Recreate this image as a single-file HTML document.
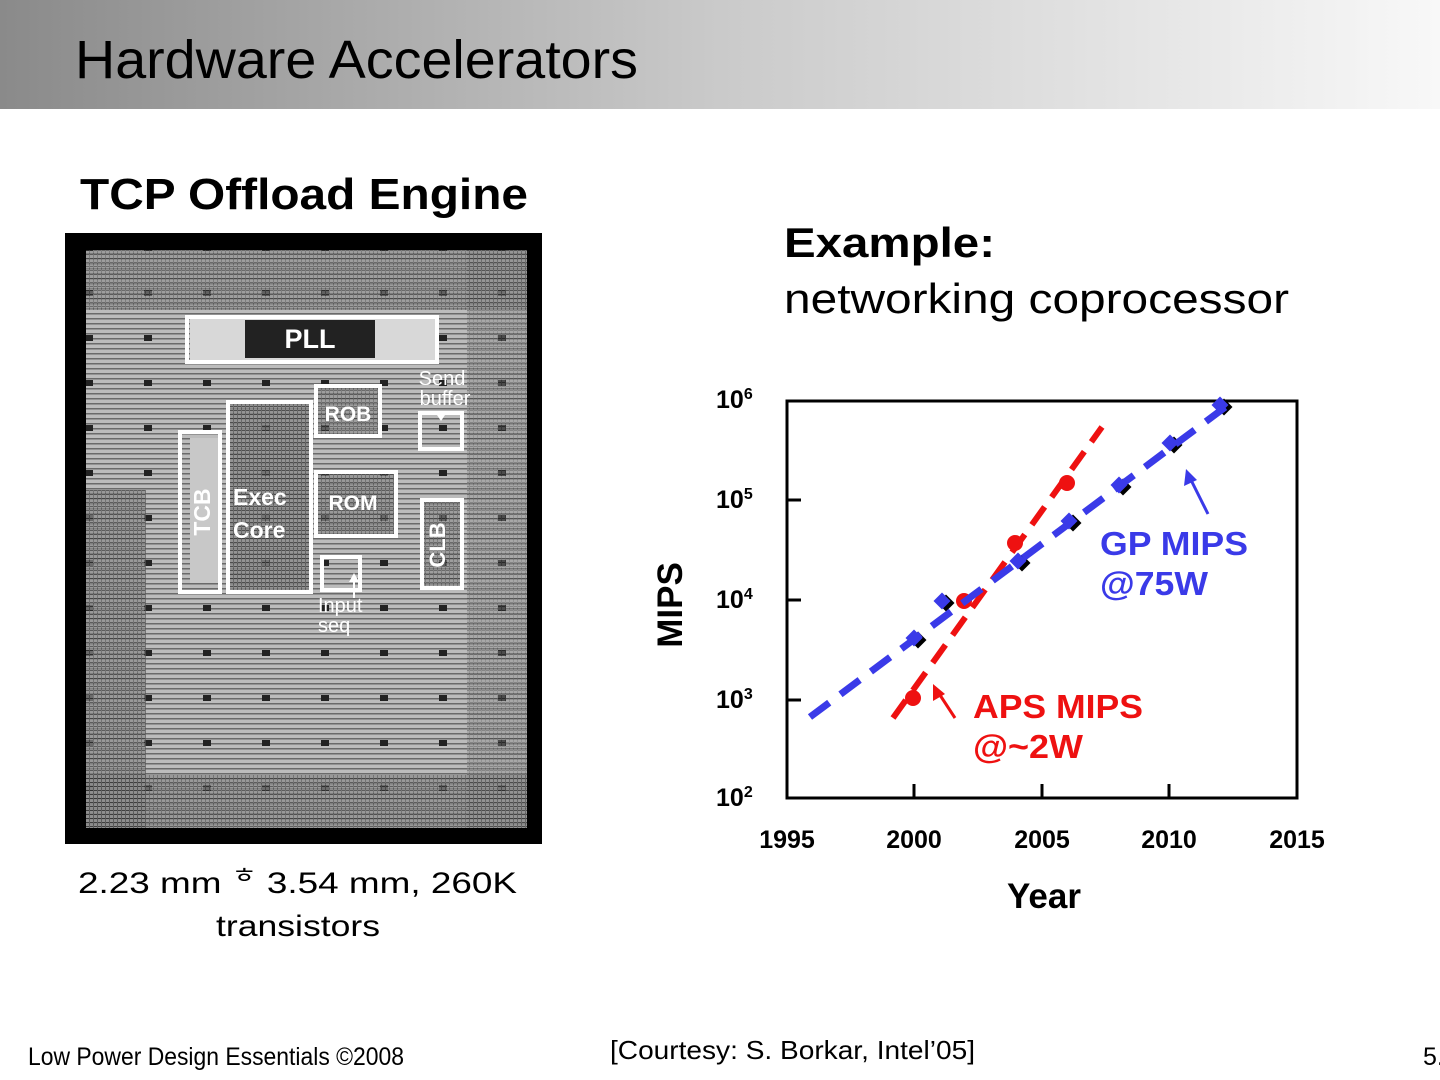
<!DOCTYPE html>
<html><head><style>
html,body{margin:0;padding:0;background:#fff}
svg{display:block}
text{font-family:"Liberation Sans",Arial,sans-serif}
</style></head><body>
<svg width="1440" height="1080" viewBox="0 0 1440 1080" xmlns="http://www.w3.org/2000/svg">
<defs>
<linearGradient id="hg" x1="0" x2="1" y1="0" y2="0">
<stop offset="0" stop-color="#8a8a8a"/><stop offset="0.5" stop-color="#cacaca"/><stop offset="1" stop-color="#f8f8f8"/>
</linearGradient>
<pattern id="stripes" width="6" height="5" patternUnits="userSpaceOnUse">
<rect width="6" height="5" fill="#bcbcbc"/><rect y="3" width="6" height="1.5" fill="#6a6a6a"/>
</pattern>
<pattern id="dense" width="4" height="4" patternUnits="userSpaceOnUse">
<rect width="4" height="4" fill="#8a8a8a"/><rect y="2" width="4" height="1" fill="#333"/><rect x="1" width="1" height="4" fill="#555"/>
</pattern>
<pattern id="dots" width="59" height="45" patternUnits="userSpaceOnUse">
<rect x="26" y="20" width="8" height="6" fill="#222"/>
</pattern>
</defs>
<rect x="0" y="0" width="1440" height="109" fill="url(#hg)"/>
<text x="75" y="78" font-size="54" textLength="563" lengthAdjust="spacingAndGlyphs" fill="#000">Hardware Accelerators</text>

<text x="80" y="209" font-size="44" font-weight="bold" fill="#000" textLength="448" lengthAdjust="spacingAndGlyphs">TCP Offload Engine</text>

<!-- chip -->
<rect x="65" y="233" width="477" height="611" fill="#000"/>
<rect x="86" y="250" width="441" height="578" fill="url(#stripes)"/>
<rect x="86" y="250" width="441" height="578" fill="url(#dots)"/>
<rect x="86" y="250" width="441" height="60" fill="url(#dense)" opacity="0.6"/>
<rect x="86" y="490" width="60" height="338" fill="url(#dense)" opacity="0.7"/>
<rect x="86" y="775" width="441" height="53" fill="url(#dense)" opacity="0.7"/>
<rect x="467" y="250" width="60" height="578" fill="url(#dense)" opacity="0.4"/>
<rect x="190" y="318" width="245" height="42" fill="#d8d8d8"/>
<rect x="245" y="320" width="130" height="38" fill="#222"/>
<rect x="187" y="317" width="250" height="45" fill="none" stroke="#fff" stroke-width="4"/>
<text x="310" y="348" font-size="27" font-weight="bold" fill="#fff" text-anchor="middle">PLL</text>
<rect x="316" y="386" width="64" height="50" fill="url(#dense)" opacity="0.6"/>
<rect x="316" y="386" width="64" height="50" fill="none" stroke="#fff" stroke-width="4"/>
<text x="348" y="421" font-size="21" font-weight="bold" fill="#fff" text-anchor="middle">ROB</text>
<rect x="228" y="402" width="83" height="190" fill="url(#dense)" opacity="0.8"/>
<rect x="228" y="402" width="83" height="190" fill="none" stroke="#fff" stroke-width="4"/>
<text x="233" y="505" font-size="23" font-weight="bold" fill="#fff">Exec</text>
<text x="233" y="538" font-size="23" font-weight="bold" fill="#fff">Core</text>
<rect x="190" y="438" width="30" height="145" fill="#c8c8c8"/>
<rect x="180" y="432" width="40" height="160" fill="none" stroke="#fff" stroke-width="4"/>
<text transform="translate(210,512) rotate(-90)" font-size="23" font-weight="bold" fill="#fff" text-anchor="middle">TCB</text>
<rect x="316" y="472" width="80" height="64" fill="url(#dense)" opacity="0.7"/>
<rect x="316" y="472" width="80" height="64" fill="none" stroke="#fff" stroke-width="4"/>
<text x="353" y="510" font-size="21" font-weight="bold" fill="#fff" text-anchor="middle">ROM</text>
<rect x="422" y="500" width="40" height="88" fill="url(#dense)" opacity="0.6"/>
<rect x="422" y="500" width="40" height="88" fill="none" stroke="#fff" stroke-width="4"/>
<text transform="translate(445,545) rotate(-90)" font-size="22" font-weight="bold" fill="#fff" text-anchor="middle">CLB</text>
<rect x="420" y="413" width="42" height="36" fill="none" stroke="#fff" stroke-width="4"/>
<text x="442" y="385" font-size="20" fill="#fff" text-anchor="middle">Send</text>
<text x="445" y="405" font-size="20" fill="#fff" text-anchor="middle">buffer</text>
<polygon points="435,412 447,412 441,421" fill="#fff"/>
<rect x="322" y="557" width="38" height="33" fill="none" stroke="#fff" stroke-width="4"/>
<text x="318" y="612" font-size="20" fill="#fff">Input</text>
<text x="318" y="632" font-size="20" fill="#fff">seq</text>
<line x1="354" y1="575" x2="354" y2="598" stroke="#fff" stroke-width="2"/>
<polygon points="349,582 359,582 354,573" fill="#fff"/>

<text x="78" y="893" font-size="30" fill="#000" textLength="439" lengthAdjust="spacingAndGlyphs">2.23 mm <tspan font-size="22" dy="-10">ㅎ</tspan><tspan dy="10"> 3.54 mm, 260K</tspan></text>
<text x="216" y="936" font-size="30" fill="#000" textLength="164" lengthAdjust="spacingAndGlyphs">transistors</text>

<text x="784" y="257" font-size="42" font-weight="bold" fill="#000" textLength="211" lengthAdjust="spacingAndGlyphs">Example:</text>
<text x="784" y="313" font-size="42" fill="#000" textLength="505" lengthAdjust="spacingAndGlyphs">networking coprocessor</text>

<!-- chart -->
<rect x="787" y="401" width="510" height="397" fill="none" stroke="#000" stroke-width="3"/>
<g stroke="#000" stroke-width="3">
<line x1="787" y1="500" x2="801" y2="500"/><line x1="787" y1="600" x2="801" y2="600"/><line x1="787" y1="700" x2="801" y2="700"/>
<line x1="914" y1="798" x2="914" y2="784"/><line x1="1042" y1="798" x2="1042" y2="784"/><line x1="1169" y1="798" x2="1169" y2="784"/>
</g>
<g font-size="25" font-weight="bold" fill="#000">
<text x="716" y="408">10<tspan font-size="16" dy="-9">6</tspan></text>
<text x="716" y="508">10<tspan font-size="16" dy="-9">5</tspan></text>
<text x="716" y="608">10<tspan font-size="16" dy="-9">4</tspan></text>
<text x="716" y="708">10<tspan font-size="16" dy="-9">3</tspan></text>
<text x="716" y="806">10<tspan font-size="16" dy="-9">2</tspan></text>
</g>
<g font-size="25" font-weight="bold" fill="#000" text-anchor="middle">
<text x="787" y="848">1995</text><text x="914" y="848">2000</text><text x="1042" y="848">2005</text><text x="1169" y="848">2010</text><text x="1297" y="848">2015</text>
</g>
<text x="1044" y="908" font-size="35" font-weight="bold" fill="#000" text-anchor="middle">Year</text>
<text transform="translate(682,605) rotate(-90)" font-size="35" font-weight="bold" fill="#000" text-anchor="middle">MIPS</text>

<g fill="#000">
<rect x="912" y="634" width="12" height="12" transform="rotate(45 918 640)"/>
<rect x="940" y="597" width="12" height="12" transform="rotate(45 946 603)"/>
<rect x="1016" y="557" width="12" height="12" transform="rotate(45 1022 563)"/>
<rect x="1067" y="517" width="12" height="12" transform="rotate(45 1073 523)"/>
<rect x="1117" y="481" width="12" height="12" transform="rotate(45 1123 487)"/>
<rect x="1168" y="439" width="12" height="12" transform="rotate(45 1174 445)"/>
<rect x="1218" y="401" width="12" height="12" transform="rotate(45 1224 407)"/>
</g>
<g fill="#3a3ae8">
<rect x="908" y="632" width="12" height="12" transform="rotate(45 914 638)"/>
<rect x="936" y="595" width="12" height="12" transform="rotate(45 942 601)"/>
<rect x="1012" y="555" width="12" height="12" transform="rotate(45 1018 561)"/>
<rect x="1063" y="515" width="12" height="12" transform="rotate(45 1069 521)"/>
<rect x="1113" y="479" width="12" height="12" transform="rotate(45 1119 485)"/>
<rect x="1164" y="437" width="12" height="12" transform="rotate(45 1170 443)"/>
<rect x="1214" y="399" width="12" height="12" transform="rotate(45 1220 405)"/>
</g>
<line x1="893" y1="718" x2="1102" y2="427" stroke="#ee1111" stroke-width="6" stroke-dasharray="22,12"/>
<g fill="#ee1111">
<circle cx="913" cy="698" r="8"/><circle cx="964" cy="601" r="8"/><circle cx="1015" cy="543" r="8"/><circle cx="1067" cy="483" r="8"/>
</g>
<line x1="810" y1="717" x2="1228" y2="405" stroke="#3a3ae8" stroke-width="7" stroke-dasharray="24,14"/>

<line x1="1208" y1="514" x2="1190" y2="478" stroke="#3a3ae8" stroke-width="3"/>
<polygon points="1186,469 1184,486 1197,480" fill="#3a3ae8"/>
<line x1="955" y1="718" x2="938" y2="692" stroke="#ee1111" stroke-width="3"/>
<polygon points="933,684 933,701 945,694" fill="#ee1111"/>
<g font-size="33" font-weight="bold">
<text x="1100" y="555" fill="#3a3ae8" textLength="148" lengthAdjust="spacingAndGlyphs">GP MIPS</text>
<text x="1100" y="595" fill="#3a3ae8" textLength="108" lengthAdjust="spacingAndGlyphs">@75W</text>
<text x="973" y="718" fill="#ee1111" textLength="170" lengthAdjust="spacingAndGlyphs">APS MIPS</text>
<text x="973" y="758" fill="#ee1111" textLength="110" lengthAdjust="spacingAndGlyphs">@~2W</text>
</g>

<text x="28" y="1065" font-size="25" textLength="376" lengthAdjust="spacingAndGlyphs" fill="#000">Low Power Design Essentials ©2008</text>
<text x="610" y="1059" font-size="26" fill="#000" textLength="365" lengthAdjust="spacingAndGlyphs">[Courtesy: S. Borkar, Intel’05]</text>
<text x="1423" y="1065" font-size="25" fill="#000">5.</text>
</svg>
</body></html>
